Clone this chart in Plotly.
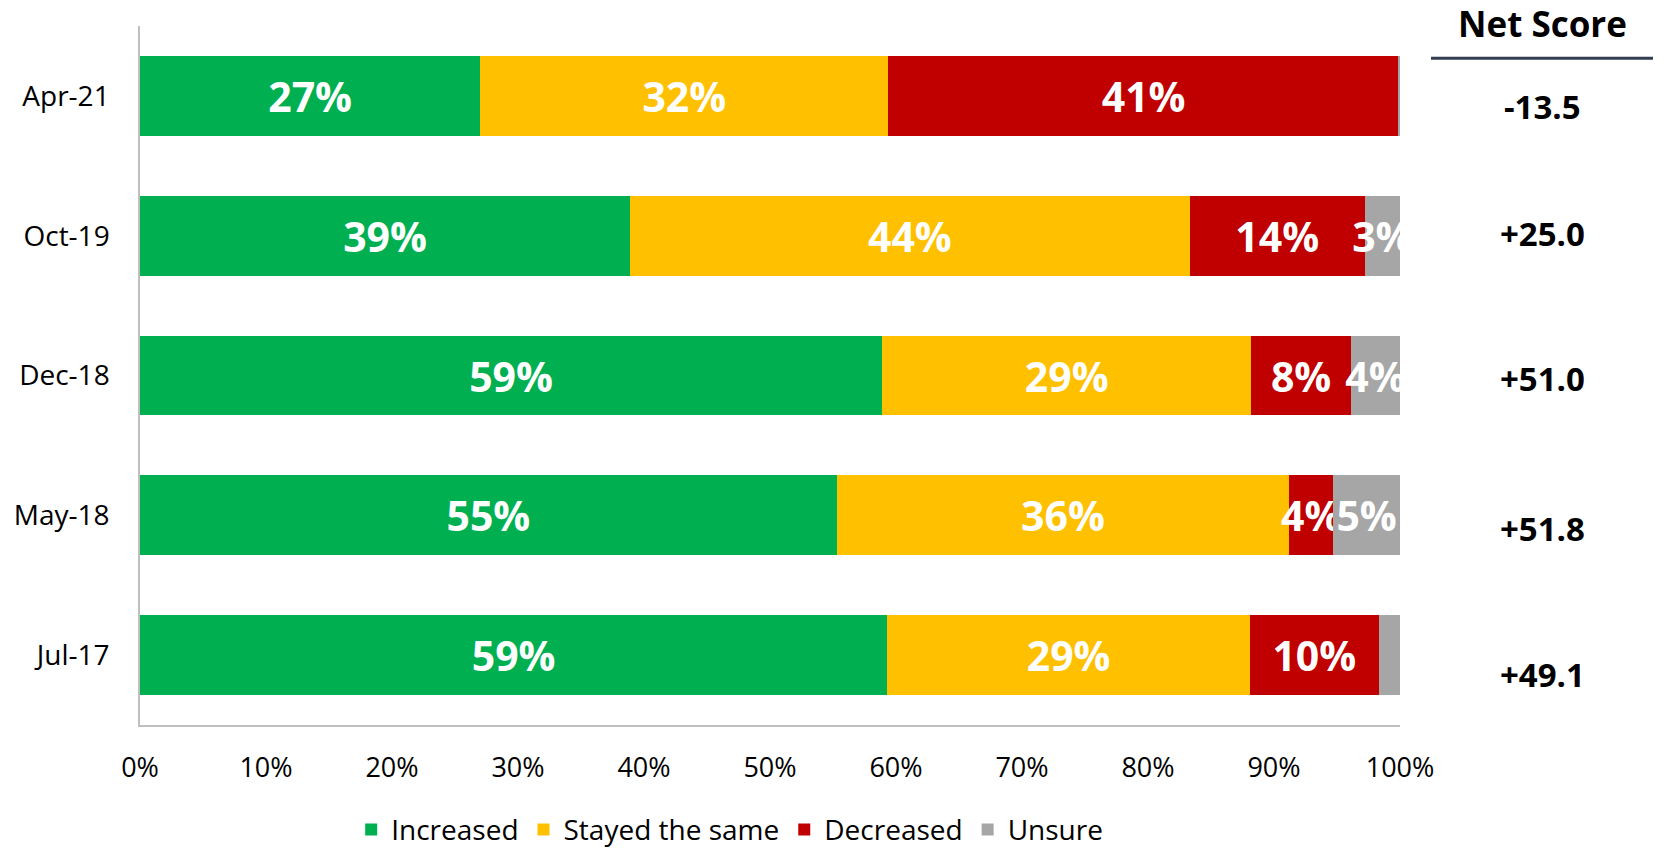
import plotly.graph_objects as go

# ---- data ----
periods = ["Apr-21", "Oct-19", "Dec-18", "May-18", "Jul-17"]
increased = [27.0, 38.9, 58.9, 55.3, 59.3]
stayed_same = [32.4, 44.4, 29.3, 35.9, 28.8]
decreased = [40.5, 13.9, 7.9, 3.5, 10.2]
unsure = [0.1, 2.8, 3.9, 5.3, 1.7]
net_scores = ["-13.5", "+25.0", "+51.0", "+51.8", "+49.1"]
x_ticks = [0, 10, 20, 30, 40, 50, 60, 70, 80, 90, 100]

series = [
    ("Increased", increased, "#00B050"),
    ("Stayed the same", stayed_same, "#FFC000"),
    ("Decreased", decreased, "#C00000"),
    ("Unsure", unsure, "#A6A6A6"),
]

FONT = "Open Sans"


def label(v):
    return f"{int(v + 0.5)}%" if v >= 2.5 else ""


fig = go.Figure()
for name, vals, color in series:
    fig.add_trace(go.Bar(
        name=name,
        y=periods,
        x=vals,
        orientation="h",
        marker=dict(color=color, line=dict(width=0)),
        text=[label(v) for v in vals],
        textposition="inside",
        insidetextanchor="middle",
        constraintext="none",
        textangle=0,
        textfont=dict(family=FONT, size=41, color="white", weight="bold"),
        cliponaxis=True,
        hoverinfo="skip",
    ))

# Net score column
net_yshift = [-11, 2, -3, -13, -19]
for p, s, dy in zip(periods, net_scores, net_yshift):
    fig.add_annotation(
        x=1.113, xref="paper", y=p, yref="y", yshift=dy,
        text=f"<b>{s}</b>", showarrow=False,
        font=dict(family=FONT, size=33, color="black"),
        xanchor="center", yanchor="middle",
    )

fig.add_annotation(
    x=1.113, xref="paper", y=1.004, yref="paper",
    text="<b>Net Score</b>", showarrow=False,
    font=dict(family=FONT, size=35, color="black"),
    xanchor="center", yanchor="middle",
)
fig.add_shape(
    type="line", xref="paper", yref="paper",
    x0=1.0246, x1=1.2008, y0=0.954, y1=0.954,
    line=dict(color="#333F50", width=3),
)

fig.update_layout(
    width=1656, height=842,
    barmode="stack",
    bargap=0.43,
    paper_bgcolor="white",
    plot_bgcolor="white",
    margin=dict(l=132, r=264, t=18, b=125, autoexpand=False),
    font=dict(family=FONT, color="black"),
    showlegend=True,
    legend=dict(
        orientation="h",
        x=0.468, xanchor="center",
        y=-0.15, yanchor="middle",
        font=dict(family=FONT, size=28, color="black"),
        traceorder="normal",
    ),
    xaxis=dict(
        range=[0, 100],
        tickvals=x_ticks,
        ticktext=[f"{t}%" for t in x_ticks],
        showgrid=False,
        zeroline=False,
        showline=True,
        linecolor="#BFBFBF",
        linewidth=1.5,
        ticks="",
        automargin=False,
        ticklabelstandoff=18,
        tickfont=dict(family=FONT, size=27, color="black"),
    ),
    yaxis=dict(
        autorange="reversed",
        showgrid=False,
        zeroline=False,
        showline=True,
        linecolor="#BFBFBF",
        linewidth=1.5,
        ticks="",
        automargin=False,
        ticklabelstandoff=23,
        tickfont=dict(family=FONT, size=28, color="black"),
    ),
)

fig.write_html("out.html")
